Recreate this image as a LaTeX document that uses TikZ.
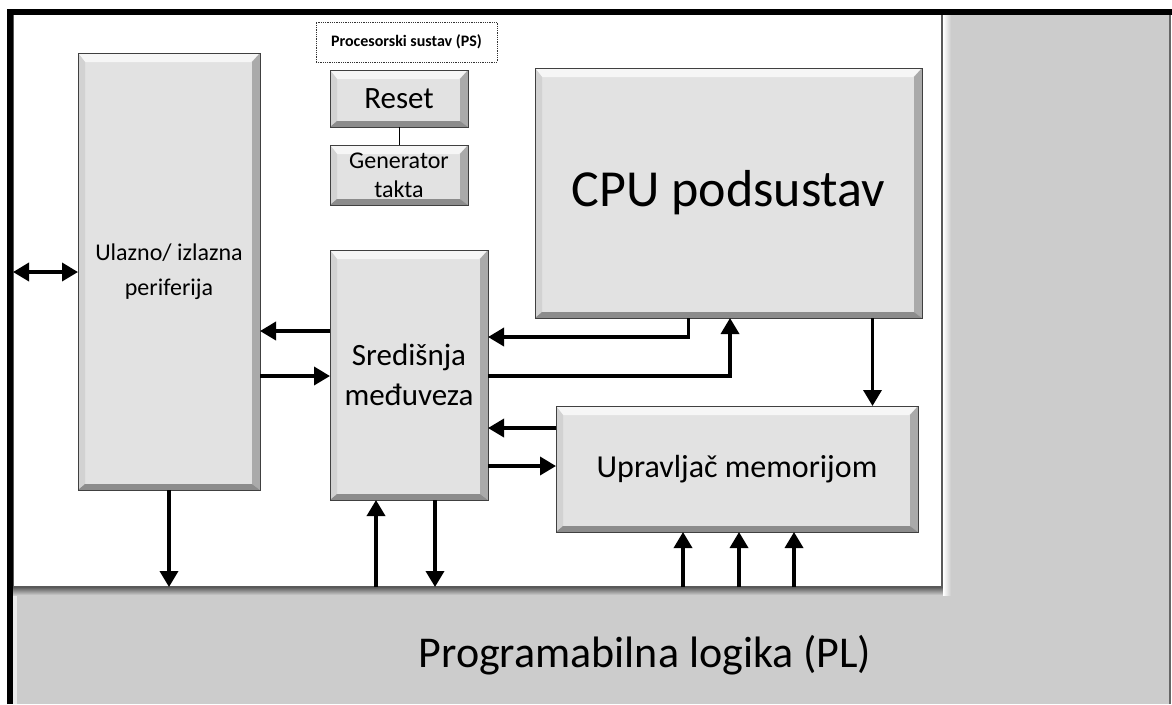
\documentclass[tikz,border=0pt]{standalone}
\usepackage{fontspec}
\setmainfont{Carlito}
\usetikzlibrary{arrows.meta, positioning, calc}
\definecolor{plsiva}{HTML}{CCCCCC}
\definecolor{blokfill}{HTML}{E2E2E2}
\tikzset{
  blok/.style={
    rectangle, draw=black!75, line width=0.8pt, fill=blokfill, inner sep=0pt, outer sep=0pt,
    align=center,
    path picture={
      \fill[white!70!blokfill] (path picture bounding box.north west) -- (path picture bounding box.north east)
        -- ([xshift=-9pt,yshift=-9pt]path picture bounding box.north east) -- ([xshift=7pt,yshift=-9pt]path picture bounding box.north west) -- cycle;
      \fill[blokfill!93!black] (path picture bounding box.north west) -- ([xshift=7pt,yshift=-9pt]path picture bounding box.north west)
        -- ([xshift=7pt,yshift=6pt]path picture bounding box.south west) -- (path picture bounding box.south west) -- cycle;
      \fill[blokfill!75!black] (path picture bounding box.north east) -- (path picture bounding box.south east)
        -- ([xshift=-8pt,yshift=6pt]path picture bounding box.south east) -- ([xshift=-8pt,yshift=-9pt]path picture bounding box.north east) -- cycle;
      \fill[blokfill!62!black] (path picture bounding box.south west) -- (path picture bounding box.south east)
        -- ([xshift=-8pt,yshift=6pt]path picture bounding box.south east) -- ([xshift=7pt,yshift=6pt]path picture bounding box.south west) -- cycle;
    }
  },
  strel/.style={-{Triangle[length=16pt,width=18pt]}, line width=3.5pt},
  dvostrel/.style={{Triangle[length=16pt,width=18pt]}-{Triangle[length=16pt,width=18pt]}, line width=3.5pt},
  spoj/.style={line width=1pt}
}

\begin{document}
\begin{tikzpicture}[
    x=1pt, y=-1pt,
    sitno/.style={font=\fontsize{24}{35}\selectfont},
    srednje/.style={font=\fontsize{31}{40}\selectfont},
    oznaka/.style={rectangle, draw=black!80, densely dotted, line width=0.8pt, fill=white,
      minimum width=181pt, minimum height=40pt, inner sep=0pt, font=\bfseries\fontsize{16}{20}\selectfont}
    ]
    \useasboundingbox (0,0) rectangle (1172,704);

    % PL podloga
    \fill[plsiva] (13,14) rectangle (1170,704);
    \fill[white!60!plsiva] (13,594) rectangle (17,704);
    \draw[black!60, line width=2pt] (1170,14) -- (1170,704);
    \node[font=\fontsize{44}{50}\selectfont] (pl) at (645,655) {Programabilna logika (PL)};

    % PS
    \shade[top color=black!65, bottom color=plsiva] (13,587) rectangle (946,595);
    \shade[left color=white, right color=plsiva] (943,14) rectangle (951,595);
    \node[rectangle, fill=white, draw=black!65, line width=1.2pt, inner sep=0pt, outer sep=0pt,
      minimum width=929pt, minimum height=573pt] (ps) at (477.5,300.5) {};
    \node[oznaka] (pslabel) at (406.5,42) {Procesorski sustav (PS)};

    % blokovi
    \node[blok, sitno, minimum width=182pt, minimum height=437pt] (periph) at (169,271.5) {Ulazno/ izlazna\\periferija};
    \node[blok, srednje, minimum width=138pt, minimum height=57pt] (reset) at (399,98.5) {Reset};
    \node[blok, font=\fontsize{24}{29}\selectfont, minimum width=138pt, minimum height=60pt,
      below=18pt of reset] (gen) {Generator\\takta};
    \node[blok, font=\fontsize{52}{60}\selectfont, minimum width=387pt, minimum height=250pt] (cpu) at (728.5,193) {CPU podsustav};
    \node[blok, srednje, minimum width=158pt, minimum height=250pt] (sred) at (409,375) {Središnja\\međuveza};
    \node[blok, font=\fontsize{32}{40}\selectfont, minimum width=362pt, minimum height=126pt] (upr) at (737,469) {Upravljač memorijom};

    \draw[spoj] (reset.south) -- (gen.north);

    % veze
    \coordinate (io) at ($(periph.west)+(0,0.5)$);
    \draw[dvostrel] (io -| ps.west) -- (io);
    \coordinate (s1) at ($(sred.west)+(0,-44)$);
    \draw[strel] (s1) -- (s1 -| periph.east);
    \coordinate (p1) at ($(periph.east)+(0,104.5)$);
    \draw[strel] (p1) -- (p1 -| sred.west);
    \coordinate (c1) at ($(cpu.south)+(-40,0)$);
    \coordinate (s2) at ($(sred.east)+(0,-38)$);
    \draw[strel] (c1) |- (s2);
    \coordinate (s3) at ($(sred.east)+(0,1)$);
    \coordinate (c2) at ($(cpu.south)+(1.5,0)$);
    \draw[strel] (s3) -| (c2);
    \coordinate (c3) at ($(cpu.south)+(144,0)$);
    \draw[strel] (c3) -- (c3 |- upr.north);
    \coordinate (u1) at ($(upr.west)+(0,-41)$);
    \draw[strel] (u1) -- (u1 -| sred.east);
    \coordinate (s4) at ($(sred.east)+(0,91)$);
    \draw[strel] (s4) -- (s4 -| upr.west);

    % prema PL
    \draw[strel] (periph.south) -- (periph.south |- ps.south);
    \coordinate (b1) at ($(sred.south)+(-33,0)$);
    \draw[strel] (b1 |- ps.south) -- (b1);
    \coordinate (b2) at ($(sred.south)+(26,0)$);
    \draw[strel] (b2) -- (b2 |- ps.south);
    \foreach \dx in {-54,2,57} {
      \coordinate (m) at ($(upr.south)+(\dx,0)$);
      \draw[strel] (m |- ps.south) -- (m);
    }

    % okvir
    \draw[line width=6pt] (10,704) -- (10,11.5) -- (1172,11.5);
\end{tikzpicture}
\end{document}
